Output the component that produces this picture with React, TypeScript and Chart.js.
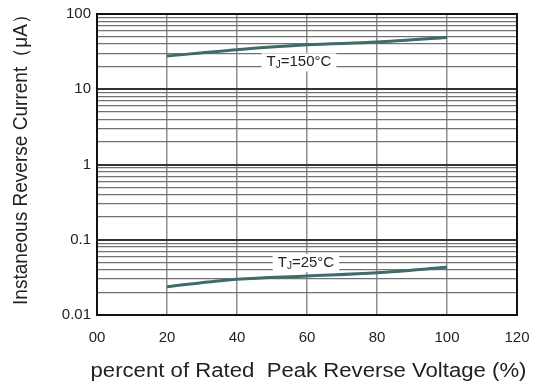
import React, { useEffect, useRef } from "react";
import { Chart, registerables } from "chart.js";

Chart.register(...registerables);

const percentCategories = [20, 40, 60, 80, 100];
const current150C = [27.6, 33.6, 39, 42.3, 48.8];
const current25C = [0.0238, 0.0298, 0.033, 0.0365, 0.043];
const xTickValues = [0, 20, 40, 60, 80, 100, 120];
const xTickLabels = ["00", "20", "40", "60", "80", "100", "120"];
const yDecades = [0.01, 0.1, 1, 10, 100];
const yDecadeLabels = ["0.01", "0.1", "1", "10", "100"];
const label150 = { x: 57.7, y: 22.8, sub: "J", text: "=150°C" };
const label25 = { x: 59.7, y: 0.049, sub: "J", text: "=25°C" };
const xTitle = "percent of Rated  Peak Reverse Voltage (%)";
const yTitle = "Instaneous Reverse Current（μA）";

const FONT = "'Liberation Sans', Arial, sans-serif";
const LINE_COLOR = "#3f6b6a";

function buildLogTicks() {
  const out: { value: number }[] = [];
  for (let d = 0; d < yDecades.length - 1; d++) {
    const base = yDecades[d];
    for (let m = 1; m < 10; m++) out.push({ value: +(base * m).toPrecision(3) });
  }
  out.push({ value: yDecades[yDecades.length - 1] });
  return out;
}

function isDecade(v: number) {
  return yDecades.some((d) => Math.abs(d - v) / d < 1e-6);
}

export default function App() {
  const ref = useRef<HTMLCanvasElement | null>(null);
  useEffect(() => {
    if (!ref.current) return;
    const overlay = {
      id: "overlay",
      afterDraw(chart: any) {
        const { ctx, chartArea } = chart;
        const xs = chart.scales.x;
        const ys = chart.scales.y;
        ctx.save();
        // border
        ctx.strokeStyle = "#111";
        ctx.lineWidth = 2;
        ctx.strokeRect(chartArea.left, chartArea.top, chartArea.right - chartArea.left, chartArea.bottom - chartArea.top);
        // curve labels
        const drawLabel = (l: any) => {
          const cx = xs.getPixelForValue(l.x);
          const cy = ys.getPixelForValue(l.y);
          ctx.font = `15px ${FONT}`;
          const wT = ctx.measureText("T").width;
          ctx.font = `10px ${FONT}`;
          const wJ = ctx.measureText(l.sub).width;
          ctx.font = `15px ${FONT}`;
          const wR = ctx.measureText(l.text).width;
          const total = wT + wJ + wR;
          const x0 = cx - total / 2;
          ctx.fillStyle = "#fff";
          ctx.fillRect(x0 - 5, cy - 9, total + 10, 18);
          ctx.fillStyle = "#222";
          ctx.textBaseline = "middle";
          ctx.textAlign = "left";
          ctx.font = `15px ${FONT}`;
          ctx.fillText("T", x0, cy);
          ctx.font = `10px ${FONT}`;
          ctx.fillText(l.sub, x0 + wT, cy + 3);
          ctx.font = `15px ${FONT}`;
          ctx.fillText(l.text, x0 + wT + wJ, cy);
        };
        drawLabel(label150);
        drawLabel(label25);
        // axis titles
        ctx.fillStyle = "#222";
        ctx.font = `20px ${FONT}`;
        ctx.textAlign = "center";
        ctx.textBaseline = "middle";
        const w = ctx.measureText(xTitle).width;
        const sx = 436 / w;
        ctx.save();
        ctx.translate(308.5, 371);
        ctx.scale(sx, 1);
        ctx.fillText(xTitle, 0, 0);
        ctx.restore();
        ctx.font = `20px ${FONT}`;
        const wy = ctx.measureText(yTitle).width;
        const sy = 300 / wy;
        ctx.translate(21, 155);
        ctx.rotate(-Math.PI / 2);
        ctx.scale(sy, 1);
        ctx.fillText(yTitle, 0, 0);
        ctx.restore();
      },
    };
    const chart = new Chart(ref.current, {
      type: "line",
      data: {
        datasets: [
          {
            label: "TJ=150°C",
            data: percentCategories.map((x, i) => ({ x, y: current150C[i] })),
            borderColor: LINE_COLOR,
            borderWidth: 3,
            pointRadius: 0,
            cubicInterpolationMode: "monotone",
          },
          {
            label: "TJ=25°C",
            data: percentCategories.map((x, i) => ({ x, y: current25C[i] })),
            borderColor: LINE_COLOR,
            borderWidth: 3,
            pointRadius: 0,
            cubicInterpolationMode: "monotone",
          },
        ],
      },
      options: {
        animation: false,
        responsive: false,
        maintainAspectRatio: false,
        layout: { padding: { left: 0, top: 14, right: 21, bottom: 0 } },
        plugins: { legend: { display: false }, tooltip: { enabled: false }, title: { display: false } },
        scales: {
          x: {
            type: "linear",
            min: 0,
            max: 120,
            afterBuildTicks: (s: any) => {
              s.ticks = xTickValues.map((v) => ({ value: v }));
            },
            afterFit: (s: any) => {
              s.height = 74;
              s.paddingLeft = 0;
              s.paddingRight = 0;
            },
            ticks: {
              autoSkip: false,
              maxRotation: 0,
              padding: 14,
              color: "#222",
              font: { family: FONT, size: 15 },
              callback: (v: any) => {
                const i = xTickValues.indexOf(Number(v));
                return i >= 0 ? xTickLabels[i] : "";
              },
            },
            grid: { color: "#8a8f8d", lineWidth: 1.5, drawTicks: false },
            border: { display: false },
          },
          y: {
            type: "logarithmic",
            min: 0.01,
            max: 100,
            afterBuildTicks: (s: any) => {
              s.ticks = buildLogTicks();
            },
            afterFit: (s: any) => {
              s.width = 97;
              s.paddingTop = 0;
              s.paddingBottom = 0;
            },
            ticks: {
              autoSkip: false,
              padding: 6,
              color: "#222",
              font: { family: FONT, size: 15 },
              callback: (v: any) => {
                const n = Number(v);
                const i = yDecades.findIndex((d) => Math.abs(d - n) / d < 1e-6);
                return i >= 0 ? yDecadeLabels[i] : "";
              },
            },
            grid: {
              drawTicks: false,
              color: (c: any) => (c.tick && isDecade(c.tick.value) ? "#333" : "#6f7472"),
              lineWidth: (c: any) => (c.tick && isDecade(c.tick.value) ? 2 : 1.2),
            },
            border: { display: false },
          },
        },
      },
      plugins: [overlay],
    } as any);
    return () => chart.destroy();
  }, []);
  return (
    <div style={{ position: "fixed", left: 0, top: 0, width: 538, height: 389, background: "#fff" }}>
      <canvas ref={ref} width={538} height={389} style={{ width: 538, height: 389 }} />
    </div>
  );
}
